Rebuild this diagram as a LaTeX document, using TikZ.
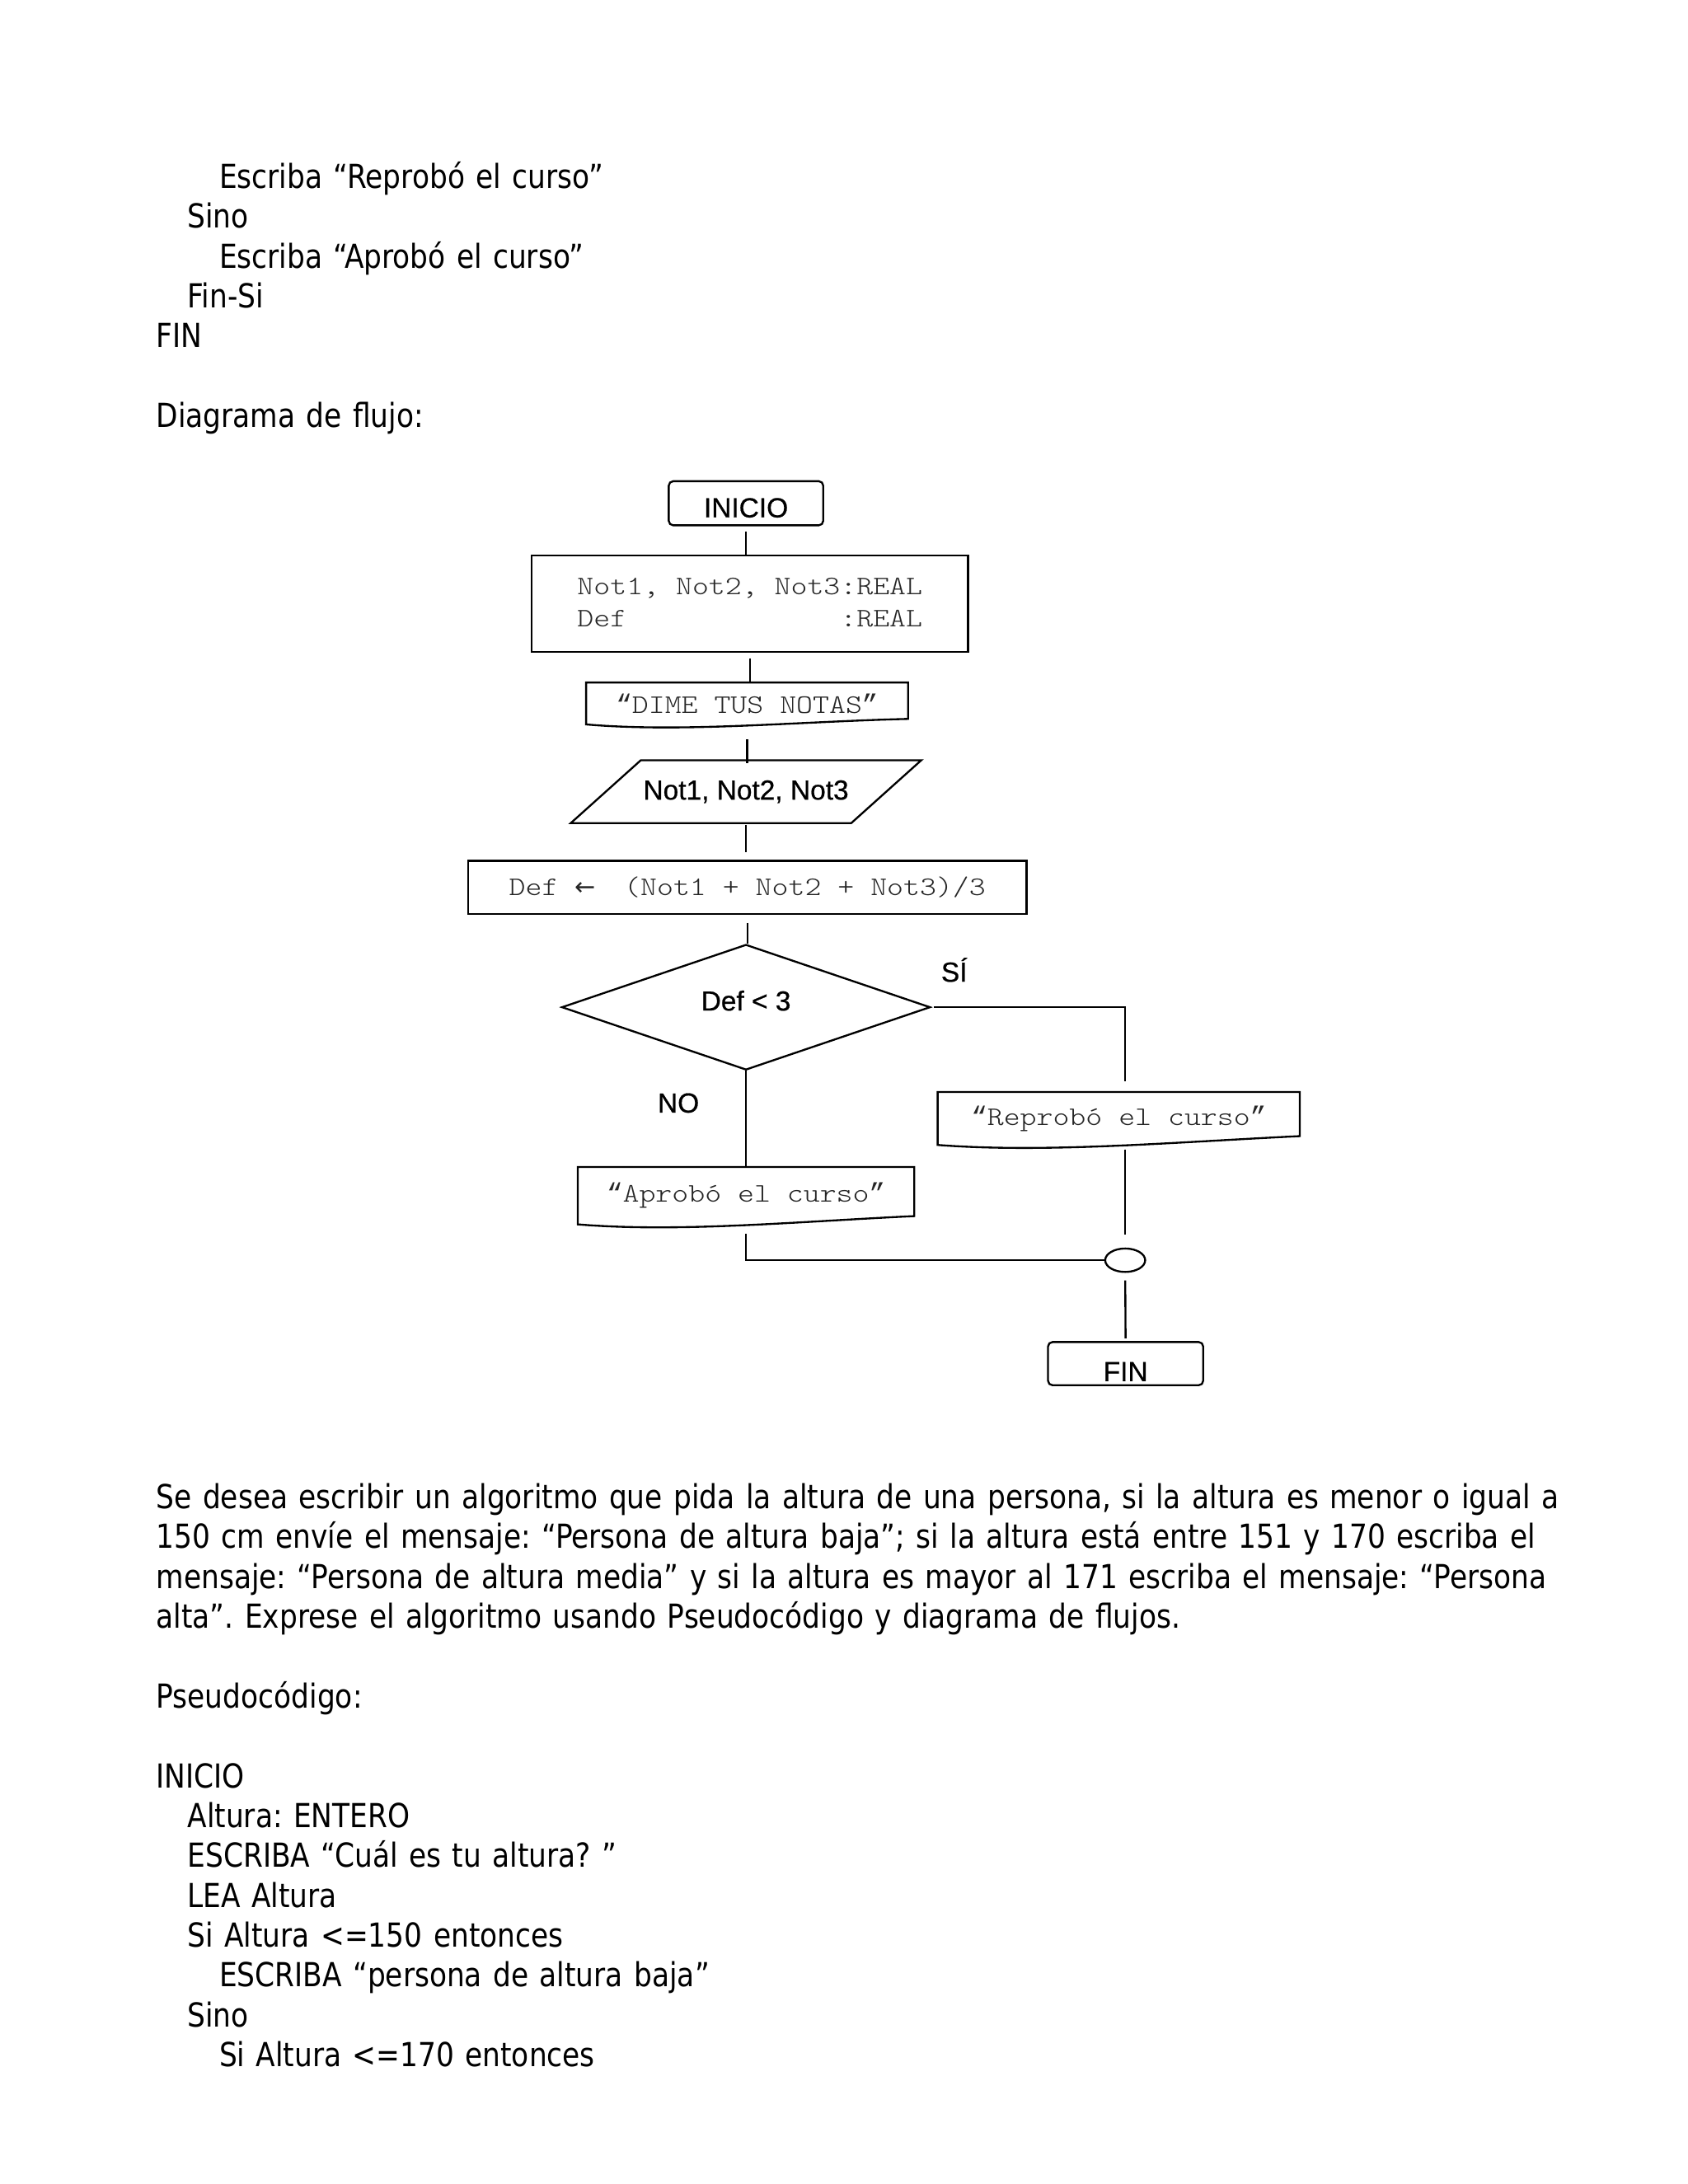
\documentclass[tikz,border=0pt]{standalone}
\usepackage{fontspec}
\setmainfont{DejaVu Sans}[FakeStretch=0.857]
\newfontfamily\flowsans{Liberation Sans}[FakeBold=0.6]
\newfontfamily\flowmono{lmmonolt10-regular}[Extension=.otf,FakeStretch=1.17]
\newfontfamily\quotefont{Liberation Mono}
\newfontfamily\arrowfont{DejaVu Sans}
\usetikzlibrary{shapes.geometric,calc}
\definecolor{inkgray}{gray}{0.15}
\newlength\tabone
\newlength\tabtwo
\setlength\tabone{11.3pt}
\setlength\tabtwo{22.8pt}
\newcommand\mq[1]{{\quotefont“}#1{\quotefont”}}
\newcommand\larrow{\makebox[11.9pt][l]{\arrowfont\fontsize{9}{11}\selectfont←}}
\newcommand\docpath[2][3pt]{%
  \draw[flow line] (#2.north west) -- (#2.north east) -- ([yshift=#1]#2.south east)
    .. controls ($(#2.south west)!0.65!(#2.south east)+(0,1pt)$) and ($(#2.south west)!0.3!(#2.south east)+(0,-3pt)$) .. (#2.south west) -- cycle;}
\frenchspacing
\begin{document}
\begin{tikzpicture}
[x=0.5pt,y=-0.5pt,
 body text/.style={inner sep=0pt,anchor=base west,text width=520pt,align=left,font=\fontsize{12}{14.45}\selectfont},
 flow line/.style={line width=0.7pt,black},
 terminal box/.style={draw,line width=0.7pt,rounded corners=1.6pt,inner sep=0pt,font=\flowsans\fontsize{10}{12}\selectfont},
 process box/.style={draw,line width=0.7pt,inner sep=0pt,font=\flowmono\fontsize{9.7}{11.65}\selectfont,text=inkgray},
 output box/.style={inner sep=0pt,outer sep=0pt,font=\flowmono\fontsize{9.7}{11.65}\selectfont,text=inkgray},
 input box/.style={inner sep=0pt,outer sep=0pt,font=\flowsans\fontsize{10}{12}\selectfont},
 decision box/.style={draw,diamond,line width=0.7pt,inner sep=0pt,font=\flowsans\fontsize{10}{12}\selectfont},
 junction/.style={draw,ellipse,line width=0.7pt,inner sep=0pt,minimum width=14.5pt,minimum height=8.5pt},
 branch label/.style={inner sep=0pt,font=\flowsans\fontsize{10}{12}\selectfont}]
\path[use as bounding box,fill=white] (0,0) rectangle (1224,1584);

\node[body text,text width=300pt] (prev code) at (113,136.5)
{\hspace*{\tabtwo}Escriba “Reprobó el curso”\\
\hspace*{\tabone}Sino\\
\hspace*{\tabtwo}Escriba “Aprobó el curso”\\
\hspace*{\tabone}Fin-Si\\
FIN\\[14.45pt]
Diagrama de flujo:};

\node[terminal box,minimum width=56pt,minimum height=16pt,text height=10.2pt,text depth=0pt] (inicio) at (541,365) {INICIO};
\node[process box,minimum width=158.2pt,minimum height=35pt,align=left] (decl) at (543.8,438)
{Not1, Not2, Not3:REAL\\Def\phantom{1, Not2, Not3}:REAL};
\node[output box,minimum width=116.75pt,minimum height=15.2pt] (dime) at (541.8,510.2) {\mq{DIME TUS NOTAS}};
\node[input box,minimum width=101.7pt,minimum height=22.8pt] (leer) at (541,574.2) {Not1, Not2, Not3};
\node[process box,minimum width=202.5pt,minimum height=19.3pt] (media) at (542,643.7) {Def \larrow\ (Not1 + Not2 + Not3)/3};
\node[decision box,minimum width=133.65pt,minimum height=45.5pt,text height=7.2pt,text depth=4.8pt] (cond) at (541,730.5) {Def < 3};
\node[branch label] (si) at (692,703.4) {SÍ};
\node[branch label] (no) at (492,800) {NO};
\node[output box,minimum width=131.3pt,minimum height=19.2pt] (repr) at (811.3,811.2) {\mq{Reprobó el curso}};
\node[output box,minimum width=122pt,minimum height=20.8pt] (apro) at (541,867.2) {\mq{Aprobó el curso}};
\node[junction] (union) at (816,914) {};
\node[terminal box,minimum width=56.25pt,minimum height=15.65pt,text height=12.7pt,text depth=0pt] (fin) at (816.3,989) {FIN};

\docpath[2pt]{dime}
\docpath[3.2pt]{repr}
\docpath[3pt]{apro}
\draw[flow line] ([xshift=-12.7pt]leer.south west) -- ([xshift=12.7pt]leer.north west) -- ([xshift=12.7pt]leer.north east) -- ([xshift=-12.7pt]leer.south east) -- cycle;

\draw[flow line,shorten <=2pt] (inicio.south) -- (inicio.south |- decl.north);
\draw[flow line,shorten <=1.8pt] (decl.south) -- (decl.south |- dime.north);
\draw[flow line,shorten <=5.5pt,shorten >=-1pt] (dime.south) -- (dime.south |- leer.north);
\draw[flow line,shorten <=0.6pt,shorten >=2.8pt] (leer.south) -- (leer.south |- media.north);
\draw[flow line,shorten <=2.8pt] (media.south) -- (media.south |- cond.north);
\draw[flow line,shorten <=1pt,shorten >=4pt] (cond.east) -| ([xshift=2.35pt]repr.north);
\draw[flow line] (cond.south) -- (cond.south |- apro.north);
\draw[flow line,shorten <=1.6pt,shorten >=4.8pt] ([xshift=2.35pt]repr.south) -- (union.north);
\draw[flow line,shorten <=3.5pt] (apro.south) |- (union.west);
\draw[flow line,shorten <=2.75pt,shorten >=1pt] (union.south) -- (fin.north);

\node[body text] (enunciado) at (113,1094.2)
{Se desea escribir un algoritmo que pida la altura de una persona, si la altura es menor o igual a\\
150 cm envíe el mensaje: “Persona de altura baja”; si la altura está entre 151 y 170 escriba el\\
mensaje: “Persona de altura media” y si la altura es mayor al 171 escriba el mensaje: “Persona\\
alta”. Exprese el algoritmo usando Pseudocódigo y diagrama de flujos.\\[14.45pt]
Pseudocódigo:\\[14.45pt]
INICIO\\
\hspace*{\tabone}Altura: ENTERO\\
\hspace*{\tabone}ESCRIBA “Cuál es tu altura? ”\\
\hspace*{\tabone}LEA Altura\\
\hspace*{\tabone}Si Altura <=150 entonces\\
\hspace*{\tabtwo}ESCRIBA “persona de altura baja”\\
\hspace*{\tabone}Sino\\
\hspace*{\tabtwo}Si Altura <=170 entonces};
\end{tikzpicture}
\end{document}
